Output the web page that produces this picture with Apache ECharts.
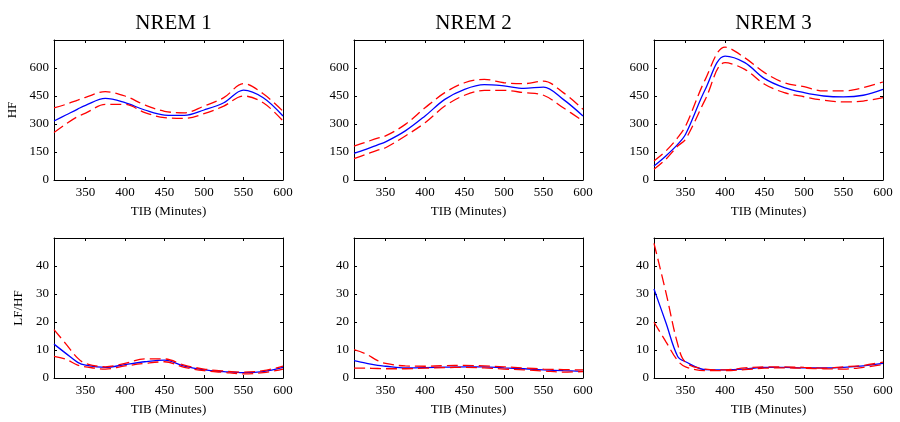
<!DOCTYPE html>
<html>
<head>
<meta charset="utf-8">
<script src="https://cdn.jsdelivr.net/npm/echarts@6/dist/echarts.min.js"></script>
<style>
  html, body { margin: 0; background: #fff; }
  #main { width: 900px; height: 422px; }
</style>
</head>
<body>
<div id="main"></div>
<script>
// TIB (minutes) sample points shared by all panels
const tib = [310, 325, 340, 350, 375, 400, 425, 450, 475, 500, 525, 550, 575, 600];
const xTicks = [350, 400, 450, 500, 550, 600];
const titles = ['NREM 1', 'NREM 2', 'NREM 3'];

// HF (top row)
const hf1Mean  = [316, 348, 380, 400, 437, 414, 375, 348, 346, 375, 414, 482, 441, 343];
const hf1Upper = [387, 405, 428, 443, 473, 450, 402, 368, 360, 396, 441, 516, 462, 368];
const hf1Lower = [254, 300, 340, 358, 405, 405, 361, 334, 330, 355, 396, 450, 414, 316];

const hf2Mean  = [143, 164, 188, 204, 263, 343, 432, 486, 511, 504, 491, 498, 432, 343];
const hf2Upper = [182, 203, 224, 236, 298, 387, 468, 521, 539, 521, 516, 530, 468, 379];
const hf2Lower = [114, 137, 160, 173, 236, 307, 396, 454, 480, 480, 468, 454, 387, 316];

const hf3Mean  = [75, 129, 191, 245, 486, 664, 629, 543, 495, 468, 450, 445, 454, 486];
const hf3Upper = [102, 155, 227, 289, 539, 712, 655, 575, 521, 500, 477, 477, 495, 525];
const hf3Lower = [57, 111, 182, 218, 432, 629, 593, 513, 468, 446, 427, 418, 423, 441];

// LF/HF (bottom row)
const lf1Mean  = [12.1, 8.8, 5.6, 4.6, 3.8, 4.8, 5.8, 6.4, 4.2, 2.9, 2.3, 1.9, 2.3, 3.8];
const lf1Upper = [17.3, 12.2, 7.1, 5.2, 4.0, 5.2, 6.8, 6.8, 4.6, 3.2, 2.5, 2.1, 2.6, 4.2];
const lf1Lower = [7.7, 6.7, 4.6, 4.0, 3.2, 4.3, 5.2, 5.8, 3.8, 2.6, 2.0, 1.5, 1.9, 3.2];

const lf2Mean  = [6.2, 5.3, 4.5, 4.2, 3.6, 3.7, 3.9, 4.0, 4.0, 3.6, 3.3, 2.9, 2.6, 2.4];
const lf2Upper = [10.1, 8.6, 6.2, 5.2, 4.3, 4.2, 4.4, 4.5, 4.3, 4.0, 3.6, 3.2, 3.0, 2.9];
const lf2Lower = [3.5, 3.5, 3.4, 3.3, 3.3, 3.5, 3.7, 3.8, 3.6, 3.2, 2.9, 2.5, 2.1, 2.3];

const lf3Mean  = [31.8, 19.8, 7.7, 5.8, 3.0, 2.9, 3.2, 3.8, 3.8, 3.6, 3.6, 3.8, 4.3, 5.2];
const lf3Upper = [48.1, 30.7, 12.1, 5.6, 3.2, 2.9, 3.6, 4.0, 4.0, 3.8, 3.5, 4.0, 4.5, 5.7];
const lf3Lower = [19.9, 13.0, 6.2, 4.0, 2.6, 2.6, 3.0, 3.5, 3.6, 3.5, 3.3, 3.2, 3.8, 4.8];

const myChart = echarts.init(document.getElementById('main'));
const font = 'Liberation Serif';

const panels = [
  { row: 0, col: 0, mean: hf1Mean, upper: hf1Upper, lower: hf1Lower },
  { row: 0, col: 1, mean: hf2Mean, upper: hf2Upper, lower: hf2Lower },
  { row: 0, col: 2, mean: hf3Mean, upper: hf3Upper, lower: hf3Lower },
  { row: 1, col: 0, mean: lf1Mean, upper: lf1Upper, lower: lf1Lower },
  { row: 1, col: 1, mean: lf2Mean, upper: lf2Upper, lower: lf2Lower },
  { row: 1, col: 2, mean: lf3Mean, upper: lf3Upper, lower: lf3Lower }
];
const lefts = [54, 354, 654];
const tops = [40, 238];

const grid = [], xAxis = [], yAxis = [], series = [];
const tickStyle = { inside: true, length: 3, lineStyle: { color: '#000', width: 1 } };
const lineAx = { show: true, onZero: false, lineStyle: { color: '#000', width: 1 } };
const labelStyle = { color: '#000', fontFamily: font, fontSize: 13 };

panels.forEach((p, i) => {
  grid.push({ left: lefts[p.col], top: tops[p.row], width: 229, height: 140 });
  const yMax = p.row === 0 ? 750 : 50;
  const yInt = p.row === 0 ? 150 : 10;
  // bottom x axis
  xAxis.push({
    type: 'value', gridIndex: i, min: 310, max: 600, position: 'bottom',
    axisLine: lineAx, splitLine: { show: false },
    axisTick: Object.assign({ customValues: xTicks }, tickStyle),
    axisLabel: Object.assign({ customValues: xTicks, margin: 6 }, labelStyle),
    name: 'TIB (Minutes)', nameLocation: 'middle', nameGap: 25,
    nameTextStyle: labelStyle
  });
  // top mirror axis
  xAxis.push({
    type: 'value', gridIndex: i, min: 310, max: 600, position: 'top',
    axisLine: lineAx, splitLine: { show: false },
    axisTick: Object.assign({ customValues: xTicks }, tickStyle),
    axisLabel: { show: false }
  });
  const yName = p.col === 0 ? (p.row === 0 ? 'HF' : 'LF/HF') : '';
  yAxis.push({
    type: 'value', gridIndex: i, min: 0, max: yMax, interval: yInt, position: 'left',
    axisLine: lineAx, splitLine: { show: false },
    axisTick: tickStyle,
    axisLabel: Object.assign({ margin: 5, showMaxLabel: false }, labelStyle),
    name: yName, nameLocation: 'middle', nameGap: p.row === 0 ? 35 : 29,
    nameTextStyle: labelStyle
  });
  yAxis.push({
    type: 'value', gridIndex: i, min: 0, max: yMax, interval: yInt, position: 'right',
    axisLine: lineAx, splitLine: { show: false },
    axisTick: tickStyle, axisLabel: { show: false }
  });
  const xi = i * 2, yi = i * 2;
  const pair = arr => tib.map((t, k) => [t, arr[k]]);
  series.push({
    type: 'line', xAxisIndex: xi, yAxisIndex: yi, data: pair(p.mean),
    smooth: 0.35, symbol: 'none', silent: true,
    lineStyle: { color: '#0000ff', width: 1.3 }
  });
  [p.upper, p.lower].forEach(arr => {
    series.push({
      type: 'line', xAxisIndex: xi, yAxisIndex: yi, data: pair(arr),
      smooth: 0.35, symbol: 'none', silent: true,
      lineStyle: { color: '#ff0000', width: 1.3, type: [11, 5] }
    });
  });
});

const title = titles.map((t, c) => ({
  text: t, left: lefts[c] + 114.5, top: 8, textAlign: 'center',
  textStyle: { fontFamily: font, fontSize: 21, fontWeight: 'normal', color: '#000' }
}));

const option = {
  animation: false,
  backgroundColor: '#fff',
  title: title,
  grid: grid,
  xAxis: xAxis,
  yAxis: yAxis,
  series: series
};
myChart.setOption(option, true);
</script>
</body>
</html>
